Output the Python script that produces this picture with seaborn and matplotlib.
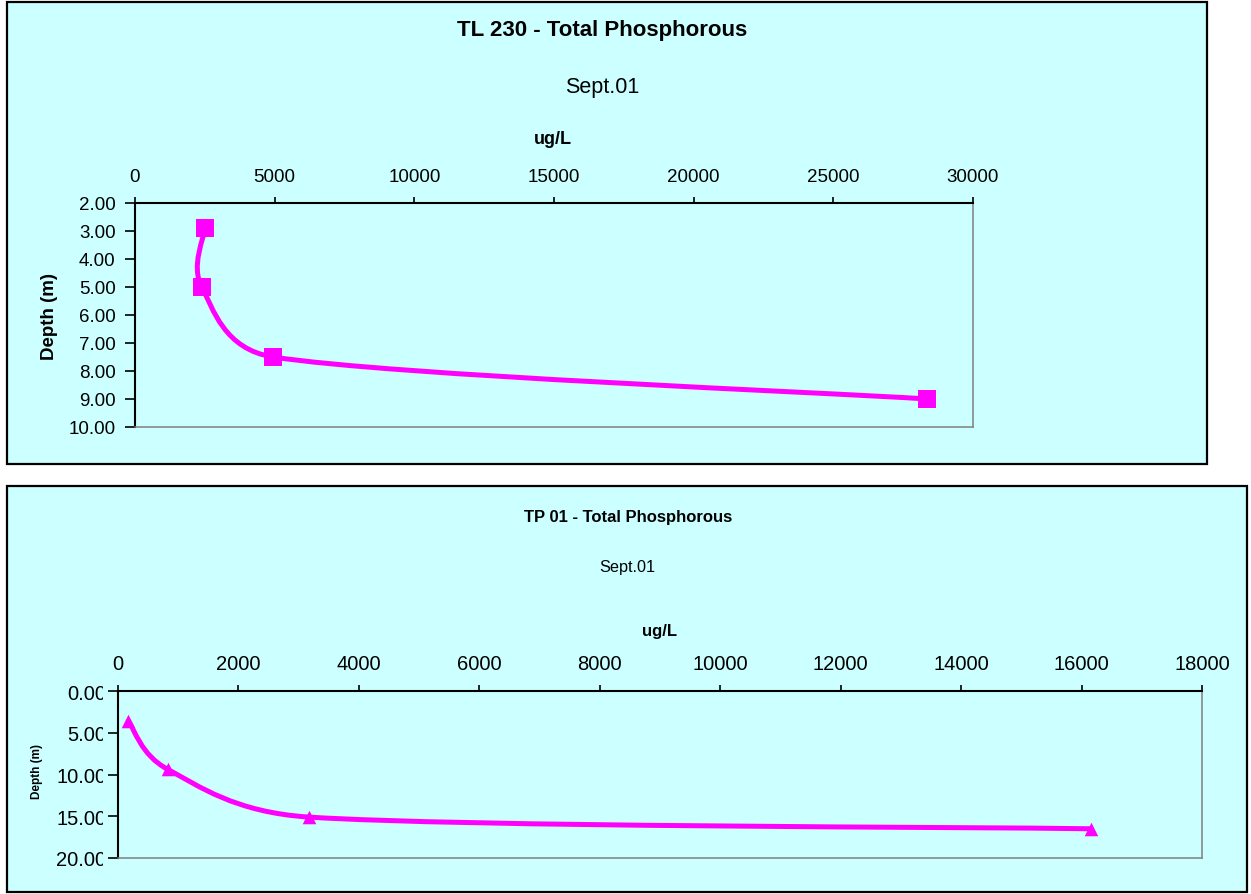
import numpy as np
import matplotlib
matplotlib.use("Agg")
import matplotlib.pyplot as plt
import seaborn as sns
from matplotlib.patches import Rectangle, PathPatch
from matplotlib.path import Path
from matplotlib.ticker import FormatStrFormatter, StrMethodFormatter
from matplotlib.transforms import Bbox, TransformedBbox

# TL 230 profile: total phosphorous (ug/L) against depth (m)
tl230_tp = [2500, 2390, 4950, 28370]
tl230_depth = [2.9, 5.0, 7.5, 9.0]
tl230_xticks = [0, 5000, 10000, 15000, 20000, 25000, 30000]
tl230_yticks = [2, 3, 4, 5, 6, 7, 8, 9, 10]

# TP 01 profile
tp01_tp = [170, 830, 3170, 16160]
tp01_depth = [3.6, 9.4, 15.1, 16.5]
tp01_xticks = [0, 2000, 4000, 6000, 8000, 10000, 12000, 14000, 16000, 18000]
tp01_yticks = [0, 5, 10, 15, 20]

W, H = 1251, 895
BG = "#CCFFFF"
MAGENTA = "#FF00FF"

sns.set_style("ticks", {"axes.edgecolor": "black", "xtick.color": "black",
                        "ytick.color": "black", "text.color": "black",
                        "axes.labelcolor": "black"})
plt.rcParams["font.family"] = ["Liberation Sans", "DejaVu Sans"]

fig = plt.figure(figsize=(W / 100, H / 100), dpi=100)
fig.patch.set_facecolor("white")


def fx(x):
    return x / W


def fy(y):
    return 1 - y / H


def box(x0, y0, x1, y1):
    return [fx(x0), fy(y1), (x1 - x0) / W, (y1 - y0) / H]


# chart panels
for x0, y0, x1, y1 in [(7, 3, 1207, 465), (7, 487, 1247, 893)]:
    fig.add_artist(Rectangle((fx(x0), fy(y1)), (x1 - x0) / W, (y1 - y0) / H,
                             transform=fig.transFigure, facecolor=BG,
                             edgecolor="black", lw=1.6, zorder=0))


def smooth_path(ax, xs, ys):
    """Bezier path through the points, smoothed in screen space."""
    pts = ax.transData.transform(np.column_stack([xs, ys]))
    n = len(pts)
    verts = [pts[0]]
    codes = [Path.MOVETO]

    def arm(t, seg):
        L = np.hypot(*t)
        if L == 0:
            return np.zeros(2)
        return t / L * min(L / 6, seg / 2)

    for i in range(n - 1):
        p0, p1 = pts[max(i - 1, 0)], pts[i]
        p2, p3 = pts[i + 1], pts[min(i + 2, n - 1)]
        seg = np.hypot(*(p2 - p1))
        c1 = p1 + arm(p2 - p0, seg)
        c2 = p2 - arm(p3 - p1, seg)
        verts += [c1, c2, p2]
        codes += [Path.CURVE4] * 3
    verts = ax.transData.inverted().transform(np.array(verts))
    return Path(verts, codes)


def profile_axes(rect, xs, ys, xticks, yticks, marker, msize, tick_fs, ypad):
    ax = fig.add_axes(rect)
    ax.set_facecolor(BG)
    ax.set_xlim(xticks[0], xticks[-1])
    ax.set_ylim(yticks[-1], yticks[0])
    ax.set_xticks(xticks)
    ax.set_yticks(yticks)
    ax.xaxis.set_major_formatter(StrMethodFormatter("{x:.0f}"))
    ax.yaxis.set_major_formatter(FormatStrFormatter("%.2f"))
    ax.xaxis.tick_top()
    ax.tick_params(axis="x", which="major", direction="out", length=4,
                   width=1.2, labelsize=tick_fs, pad=9, top=True, bottom=False,
                   labeltop=True, labelbottom=False)
    ax.tick_params(axis="y", which="major", direction="out", length=7,
                   width=1.2, labelsize=tick_fs, pad=ypad, left=True)
    for side in ("top", "left"):
        ax.spines[side].set_color("black")
        ax.spines[side].set_linewidth(1.5)
    for side in ("right", "bottom"):
        ax.spines[side].set_visible(True)
        ax.spines[side].set_color("#808080")
        ax.spines[side].set_linewidth(1.1)

    ax.add_patch(PathPatch(smooth_path(ax, xs, ys), facecolor="none",
                           edgecolor=MAGENTA, lw=3.6, capstyle="round",
                           joinstyle="round", zorder=2))
    sns.scatterplot(x=xs, y=ys, ax=ax, marker=marker, s=msize,
                    color=MAGENTA, edgecolor=MAGENTA, linewidth=0, zorder=3,
                    legend=False)
    ax.set_xlim(xticks[0], xticks[-1])
    ax.set_ylim(yticks[-1], yticks[0])
    ax.set_xlabel("")
    ax.set_ylabel("")
    return ax


ax1 = profile_axes(box(135, 204, 973, 428), tl230_tp, tl230_depth,
                   tl230_xticks, tl230_yticks, "s", 150, 13.5, 7)
ax2 = profile_axes(box(118, 692, 1202, 859), tp01_tp, tp01_depth,
                   tp01_xticks, tp01_yticks, "^", 95, 14.5, 1.5)

# the depth labels of the lower chart are cut at the edge of their column
fig.canvas.draw()
clip = TransformedBbox(Bbox([[0, 0], [fx(103), 1]]), fig.transFigure)
for tick in ax2.yaxis.get_major_ticks():
    tick.label1.set_clip_box(clip)
    tick.label1.set_clip_on(True)

# titles and axis titles
fig.text(fx(602), fy(36), "TL 230 - Total Phosphorous", ha="center",
         va="baseline", fontsize=16, fontweight="bold")
fig.text(fx(602), fy(93), "Sept.01", ha="center", va="baseline", fontsize=15.5)
fig.text(fx(553), fy(144), "ug/L", ha="center", va="baseline", fontsize=13,
         fontweight="bold")
fig.text(fx(50), fy(316), "Depth (m)", ha="center", va="center", rotation=90,
         fontsize=13.5, fontweight="bold")

fig.text(fx(628), fy(522), "TP 01 - Total Phosphorous", ha="center",
         va="baseline", fontsize=12, fontweight="bold")
fig.text(fx(627), fy(572), "Sept.01", ha="center", va="baseline", fontsize=11.7)
fig.text(fx(660), fy(636), "ug/L", ha="center", va="baseline", fontsize=12,
         fontweight="bold")
fig.text(fx(37), fy(772), "Depth (m)", ha="center", va="center", rotation=90,
         fontsize=8.5, fontweight="bold")

fig.savefig("out.png", dpi=100, facecolor="white")
